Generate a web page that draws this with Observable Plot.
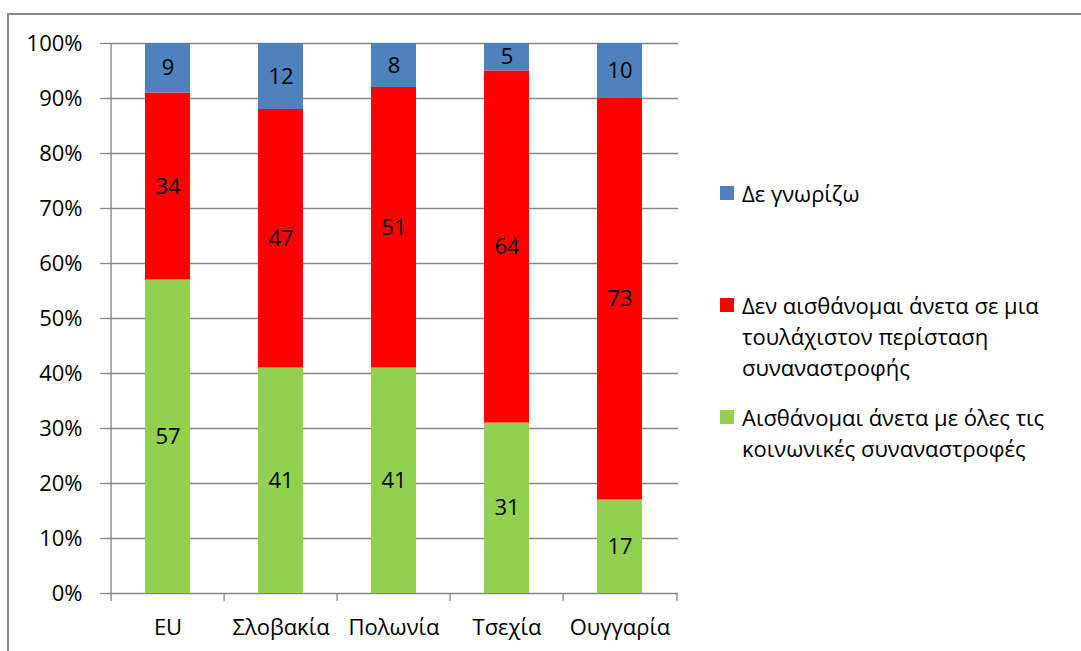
<!DOCTYPE html>
<html><head><meta charset="utf-8">
<script src="https://cdn.jsdelivr.net/npm/d3@7"></script>
<script src="https://cdn.jsdelivr.net/npm/@observablehq/plot@0.6"></script>
<style>
body{margin:0;background:#fff;font-family:"Open Sans",sans-serif;}
#wrap{position:relative;width:1081px;height:651px;overflow:hidden;background:#fff;}
#border{position:absolute;left:7px;top:13px;width:1100px;height:700px;border-left:2px solid #8a8a8a;border-top:2px solid #8a8a8a;}
#chart{position:absolute;left:0;top:0;}
#legend{position:absolute;left:720px;top:0;font-size:22px;color:#000;line-height:31px;}
.item{position:absolute;left:0;display:flex;align-items:flex-start;white-space:nowrap;}
.sw{width:14px;height:14px;margin-top:8px;margin-right:8px;flex:none;}
</style></head>
<body><div id="wrap"><div id="border"></div><div id="chart"></div><div id="legend"></div></div>
<script>
const categories = ["EU", "Σλοβακία", "Πολωνία", "Τσεχία", "Ουγγαρία"];
const comfortable = [57, 41, 41, 31, 17];
const notComfortable = [34, 47, 51, 64, 73];
const dontKnow = [9, 12, 8, 5, 10];
const legendLines = [
  ["Αισθάνομαι άνετα με όλες τις", "κοινωνικές συναναστροφές"],
  ["Δεν αισθάνομαι άνετα σε μια", "τουλάχιστον περίσταση", "συναναστροφής"],
  ["Δε γνωρίζω"]
];
const seriesNames = legendLines.map(l => l.join(" "));
const seriesColors = ["#92D050", "#FF0000", "#4F81BD"];
const yTicks = [0, 10, 20, 30, 40, 50, 60, 70, 80, 90, 100];

const seriesValues = [comfortable, notComfortable, dontKnow];
const data = categories.flatMap((c, i) => seriesNames.map((s, k) => ({cat: c, series: s, value: seriesValues[k][i]})));

const W = 1081, H = 651, mL = 109, mR = 403, mT = 43, mB = 58;
const step = (W - mL - mR) / categories.length;
const grid = "#868686";
const fs = 22;

const chart = Plot.plot({
  width: W, height: H,
  marginLeft: mL, marginRight: mR, marginTop: mT, marginBottom: mB,
  style: {fontFamily: "Open Sans", fontSize: fs + "px", color: "#000", background: "transparent", overflow: "visible"},
  x: {domain: categories, paddingInner: 0.6, paddingOuter: 0.3, label: null, axis: null},
  y: {domain: [0, 100], label: null, axis: null},
  color: {domain: seriesNames, range: seriesColors},
  marks: [
    Plot.ruleY(yTicks, {stroke: grid, strokeWidth: 1.3}),
    Plot.ruleX([categories[0]], {dx: -step / 2, stroke: grid, strokeWidth: 1.3}),
    Plot.barY(data, {x: "cat", y: "value", fill: "series", z: "series", order: seriesNames}),
    Plot.text(data, Plot.stackY({x: "cat", y: "value", z: "series", text: "value", order: seriesNames, fontSize: fs, fill: "#000"})),
    Plot.axisY({ticks: yTicks, tickSize: 9, tickPadding: 18, tickFormat: d => d + "%", stroke: grid, strokeWidth: 1.3, fontSize: fs, fill: "#000"}),
    Plot.axisX(categories, {tickSize: 8, dx: -step / 2, tickFormat: () => "", stroke: grid, strokeWidth: 1.3}),
    Plot.axisX([categories[categories.length - 1]], {tickSize: 8, dx: step / 2, tickFormat: () => "", stroke: grid, strokeWidth: 1.3}),
    Plot.axisX({tickSize: 0, tickPadding: 26, fontSize: fs, fill: "#000"})
  ]
});
document.getElementById("chart").appendChild(chart);

const legend = document.getElementById("legend");
const tops = [401.5, 289.5, 177.5];
legendLines.forEach((lines, k) => {
  const item = document.createElement("div");
  item.className = "item";
  item.style.top = tops[k] + "px";
  const sw = document.createElement("div");
  sw.className = "sw";
  sw.style.background = seriesColors[k];
  const txt = document.createElement("div");
  txt.innerHTML = lines.join("<br>");
  item.appendChild(sw); item.appendChild(txt);
  legend.appendChild(item);
});
</script>
</body></html>
